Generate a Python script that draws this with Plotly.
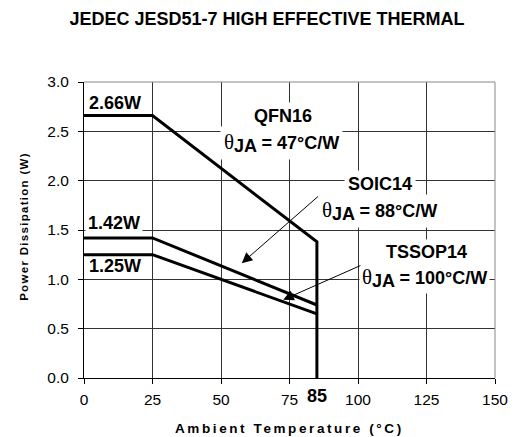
import plotly.graph_objects as go

# Derating curves: ambient temperature (°C) vs. allowed power dissipation (W)
temp_qfn16 = [0, 25, 85, 85]
power_qfn16 = [2.66, 2.66, 1.38, 0.0]

temp_soic14 = [0, 25, 85]
power_soic14 = [1.42, 1.42, 0.74]

temp_tssop14 = [0, 25, 85]
power_tssop14 = [1.25, 1.25, 0.65]

x_ticks = [0, 25, 50, 75, 100, 125, 150]
y_ticks = [0.0, 0.5, 1.0, 1.5, 2.0, 2.5, 3.0]

title_text = "JEDEC JESD51-7 HIGH EFFECTIVE THERMAL"
x_title = "Ambient Temperature (°C)"
y_title = "Power Dissipation (W)"

FONT = "Liberation Sans, Arial, sans-serif"
THETA = "<span style=\"font-family:Liberation Serif;font-weight:normal;font-size:21px\">θ</span>"


def theta_line(value):
    return THETA + "<span style=\"baseline-shift:-3px\">JA</span> = " + value


fig = go.Figure()
for xs, ys in [(temp_qfn16, power_qfn16),
               (temp_soic14, power_soic14),
               (temp_tssop14, power_tssop14)]:
    fig.add_trace(go.Scatter(x=xs, y=ys, mode="lines",
                             line=dict(color="black", width=3),
                             showlegend=False, hoverinfo="skip"))

label_font = dict(family=FONT, size=18, color="black", weight="bold")


def label(text, x, y, bg=None, pad=3):
    d = dict(text=text, x=x, y=y, xref="x", yref="y", showarrow=False,
             xanchor="center", yanchor="middle", font=label_font)
    if bg:
        d.update(bgcolor=bg, borderpad=pad)
    return d


def callout(x, y, ax, ay):
    return dict(x=x, y=y, ax=ax, ay=ay, xref="x", yref="y", axref="x", ayref="y",
                text="", showarrow=True, arrowhead=2, arrowsize=2.1,
                arrowwidth=1, arrowcolor="black")


annotations = [
    label("2.66W", 11.4, 2.79),
    label("1.42W", 10.9, 1.576, bg="white", pad=2),
    label("1.25W", 11.4, 1.131),
    label("QFN16", 72.7, 2.658, bg="white"),
    label(theta_line("47°C/W"), 72.0, 2.384, bg="white"),
    label("SOIC14", 108.1, 1.965, bg="white"),
    label(theta_line("88°C/W"), 107.7, 1.692, bg="white"),
    label("TSSOP14", 124.9, 1.281, bg="white", pad=2),
    label(theta_line("100°C/W"), 124.1, 1.015, bg="white", pad=2),
    # callout arrows for the two smaller packages
    callout(57.6, 1.164, 86.0, 1.854),
    callout(72.7, 0.793, 101.4, 1.146),
    # highlighted 85 °C limit under the axis
    dict(text="<b>85</b>", x=85, y=0, xref="x", yref="paper", yshift=-17.5,
         showarrow=False, xanchor="center", yanchor="middle",
         font=dict(family=FONT, size=18, color="black")),
    # axis titles
    dict(text="<span style=\"letter-spacing:2.6px\">" + x_title + "</span>",
         x=0.5, y=-0.169, xref="paper", yref="paper", showarrow=False,
         xanchor="center", yanchor="middle",
         font=dict(family=FONT, size=13.5, color="black", weight="bold")),
    dict(text="<span style=\"letter-spacing:1.3px\">" + y_title + "</span>",
         x=-0.146, y=0.514, xref="paper", yref="paper", showarrow=False,
         xanchor="center", yanchor="middle", textangle=-90,
         font=dict(family=FONT, size=11.5, color="black", weight="bold")),
]

axis_common = dict(showline=True, linecolor="black", linewidth=1,
                   ticks="outside", tickcolor="black", ticklen=5,
                   showgrid=True, gridcolor="#333333", gridwidth=1,
                   zeroline=False, tickfont=dict(family=FONT, size=15.5, color="black"))

fig.update_layout(
    width=520, height=437,
    margin=dict(l=84, r=22, t=82, b=59),
    paper_bgcolor="white", plot_bgcolor="white",
    title=dict(text=title_text, xref="container", yref="container",
               x=267 / 520, y=1 - 18.3 / 437, xanchor="center", yanchor="middle",
               font=dict(family=FONT, size=18, color="black", weight="bold")),
    xaxis=dict(range=[0, 150], tickvals=x_ticks, ticklabelstandoff=2, **axis_common),
    yaxis=dict(range=[0, 3], tickvals=y_ticks, tickformat=".1f",
               ticklabelstandoff=6, **axis_common),
    annotations=annotations,
    shapes=[
        dict(type="line", xref="paper", yref="paper", x0=0, x1=1, y0=1, y1=1,
             line=dict(color="#888888", width=1)),
        dict(type="line", xref="paper", yref="paper", x0=1, x1=1, y0=0, y1=1,
             line=dict(color="#888888", width=1)),
    ],
)

fig.write_html("out.html")
